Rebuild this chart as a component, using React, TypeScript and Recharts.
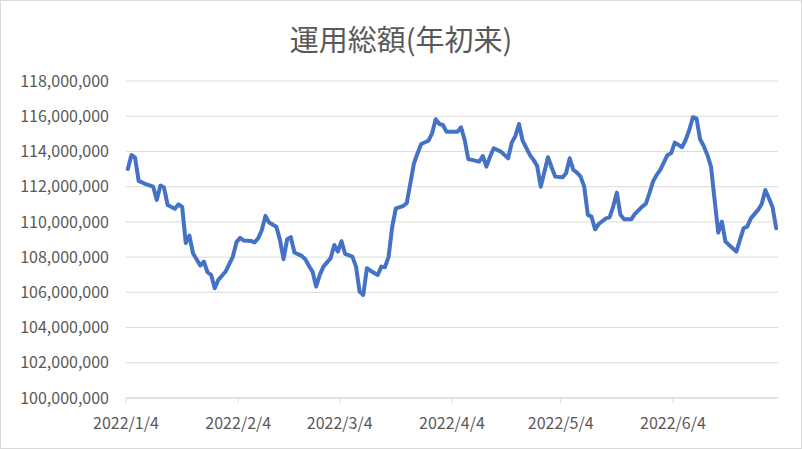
import React from 'react';
import { LineChart, Line, XAxis, YAxis, CartesianGrid } from 'recharts';

const title = '運用総額(年初来)';

const dates: string[] = [
  '2022/1/4', '2022/1/5', '2022/1/6', '2022/1/7', '2022/1/9', '2022/1/11', '2022/1/12', '2022/1/13', '2022/1/14', '2022/1/15',
  '2022/1/17', '2022/1/18', '2022/1/19', '2022/1/20', '2022/1/21', '2022/1/22', '2022/1/24', '2022/1/25', '2022/1/26', '2022/1/27',
  '2022/1/28', '2022/1/29', '2022/1/31', '2022/2/2', '2022/2/3', '2022/2/4', '2022/2/5', '2022/2/7', '2022/2/8', '2022/2/9',
  '2022/2/10', '2022/2/11', '2022/2/12', '2022/2/14', '2022/2/15', '2022/2/16', '2022/2/17', '2022/2/18', '2022/2/19', '2022/2/21',
  '2022/2/22', '2022/2/23', '2022/2/24', '2022/2/25', '2022/2/26', '2022/2/27', '2022/3/1', '2022/3/2', '2022/3/3', '2022/3/4',
  '2022/3/5', '2022/3/7', '2022/3/8', '2022/3/9', '2022/3/10', '2022/3/11', '2022/3/12', '2022/3/14', '2022/3/15', '2022/3/16',
  '2022/3/17', '2022/3/18', '2022/3/19', '2022/3/21', '2022/3/22', '2022/3/23', '2022/3/24', '2022/3/25', '2022/3/26', '2022/3/28',
  '2022/3/29', '2022/3/30', '2022/3/31', '2022/4/1', '2022/4/2', '2022/4/3', '2022/4/5', '2022/4/6', '2022/4/7', '2022/4/8',
  '2022/4/9', '2022/4/11', '2022/4/12', '2022/4/13', '2022/4/14', '2022/4/15', '2022/4/17', '2022/4/19', '2022/4/20', '2022/4/21',
  '2022/4/22', '2022/4/23', '2022/4/25', '2022/4/26', '2022/4/27', '2022/4/28', '2022/4/30', '2022/5/1', '2022/5/2', '2022/5/4',
  '2022/5/5', '2022/5/6', '2022/5/7', '2022/5/8', '2022/5/9', '2022/5/10', '2022/5/11', '2022/5/12', '2022/5/13', '2022/5/14',
  '2022/5/16', '2022/5/17', '2022/5/18', '2022/5/19', '2022/5/20', '2022/5/21', '2022/5/23', '2022/5/24', '2022/5/26', '2022/5/27',
  '2022/5/28', '2022/5/29', '2022/5/30', '2022/5/31', '2022/6/2', '2022/6/3', '2022/6/4', '2022/6/5', '2022/6/6', '2022/6/7',
  '2022/6/8', '2022/6/9', '2022/6/10', '2022/6/11', '2022/6/12', '2022/6/13', '2022/6/14', '2022/6/15', '2022/6/16', '2022/6/17',
  '2022/6/18', '2022/6/19', '2022/6/21', '2022/6/22', '2022/6/23', '2022/6/24', '2022/6/25', '2022/6/27', '2022/6/28', '2022/6/29',
  '2022/6/30', '2022/7/1', '2022/7/2',
];

const totals: number[] = [
  113000000, 113800000, 113650000, 112330000, 112140000, 112000000, 111250000, 112060000, 111950000, 110960000,
  110740000, 111000000, 110850000, 108800000, 109220000, 108220000, 107520000, 107750000, 107140000, 106990000,
  106230000, 106710000, 107180000, 108030000, 108850000, 109100000, 108940000, 108920000, 108830000, 109070000,
  109540000, 110340000, 109960000, 109730000, 108980000, 107880000, 109020000, 109130000, 108260000, 108070000,
  107880000, 107500000, 107180000, 106330000, 106990000, 107460000, 107940000, 108690000, 108310000, 108900000,
  108180000, 108030000, 107460000, 106040000, 105850000, 107370000, 107230000, 106990000, 107460000, 107430000,
  108030000, 109730000, 110770000, 110900000, 111060000, 112190000, 113330000, 113900000, 114420000, 114610000,
  115030000, 115830000, 115560000, 115500000, 115120000, 115120000, 115120000, 115370000, 114650000, 113560000,
  113520000, 113420000, 113740000, 113140000, 113700000, 114180000, 113990000, 113610000, 114500000, 114880000,
  115560000, 114610000, 113800000, 113520000, 113180000, 112000000, 113670000, 113100000, 112570000, 112530000,
  112760000, 113610000, 112950000, 112800000, 112570000, 112000000, 110400000, 110300000, 109580000, 109880000,
  110200000, 110260000, 110870000, 111660000, 110400000, 110150000, 110150000, 110450000, 110870000, 111020000,
  111630000, 112290000, 112670000, 112950000, 113800000, 113900000, 114500000, 114370000, 114240000, 114650000,
  115220000, 115940000, 115880000, 114690000, 114310000, 113800000, 113140000, 111250000, 109390000, 110010000,
  108880000, 108690000, 108310000, 108980000, 109640000, 109730000, 110200000, 110680000, 111020000, 111810000,
  111340000, 110830000, 109640000,
];

const xTickLabels: string[] = ['2022/1/4', '2022/2/4', '2022/3/4', '2022/4/4', '2022/5/4', '2022/6/4'];
const yTicks: number[] = [
  100000000, 102000000, 104000000, 106000000, 108000000, 110000000,
  112000000, 114000000, 116000000, 118000000,
];

const toTime = (s: string) => {
  const [y, m, d] = s.split('/').map(Number);
  return Date.UTC(y, m - 1, d);
};
const origin = toTime(dates[0]);
const dayOf = (s: string) => Math.round((toTime(s) - origin) / 86400000);

const data = dates.map((d, i) => ({ x: dayOf(d) + 0.5, total: totals[i] }));
const xTicks = xTickLabels.map(dayOf);
const xLabelByDay: Record<number, string> = {};
xTickLabels.forEach((l) => { xLabelByDay[dayOf(l)] = l; });

const FONT = '"Noto Sans CJK JP", "Noto Sans", sans-serif';
const TEXT = '#595959';
const GRID = '#d9d9d9';

export default function App() {
  return (
    <div style={{ position: 'absolute', left: 0, top: 0, width: 802, height: 449, background: '#fff', fontFamily: FONT }}>
      <LineChart
        width={802}
        height={449}
        data={data}
        margin={{ top: 81, right: 24, bottom: 21, left: 0 }}
      >
        <CartesianGrid horizontal vertical={false} stroke={GRID} strokeWidth={1} />
        <XAxis
          type="number"
          dataKey="x"
          domain={[0, 180]}
          ticks={xTicks}
          tickFormatter={(v: number) => xLabelByDay[v] ?? ''}
          interval={0}
          height={30}
          axisLine={{ stroke: GRID, strokeWidth: 1 }}
          tickLine={{ stroke: GRID, strokeWidth: 1 }}
          tickSize={5}
          tickMargin={15}
          tick={{ fill: TEXT, fontSize: 16, fontFamily: FONT }}
        />
        <YAxis
          type="number"
          domain={[100000000, 118000000]}
          ticks={yTicks}
          interval={0}
          width={126}
          axisLine={false}
          tickLine={false}
          tickSize={6}
          tickMargin={11}
          tickFormatter={(v: number) => v.toLocaleString('en-US')}
          tick={{ fill: TEXT, fontSize: 16, fontFamily: FONT }}
        />
        <Line
          type="linear"
          dataKey="total"
          stroke="#4472C4"
          strokeWidth={4}
          strokeLinejoin="round"
          strokeLinecap="round"
          dot={false}
          activeDot={false}
          isAnimationActive={false}
        />
      </LineChart>
      <div
        style={{
          position: 'absolute', left: 0, top: 18, width: 802, textAlign: 'center',
          fontSize: 29, lineHeight: '40px', color: TEXT, fontFamily: FONT,
        }}
      >
        {title}
      </div>
      <div
        style={{
          position: 'absolute', left: 0, top: 0, width: 802, height: 449,
          boxSizing: 'border-box', border: `1px solid ${GRID}`, pointerEvents: 'none',
        }}
      />
    </div>
  );
}
